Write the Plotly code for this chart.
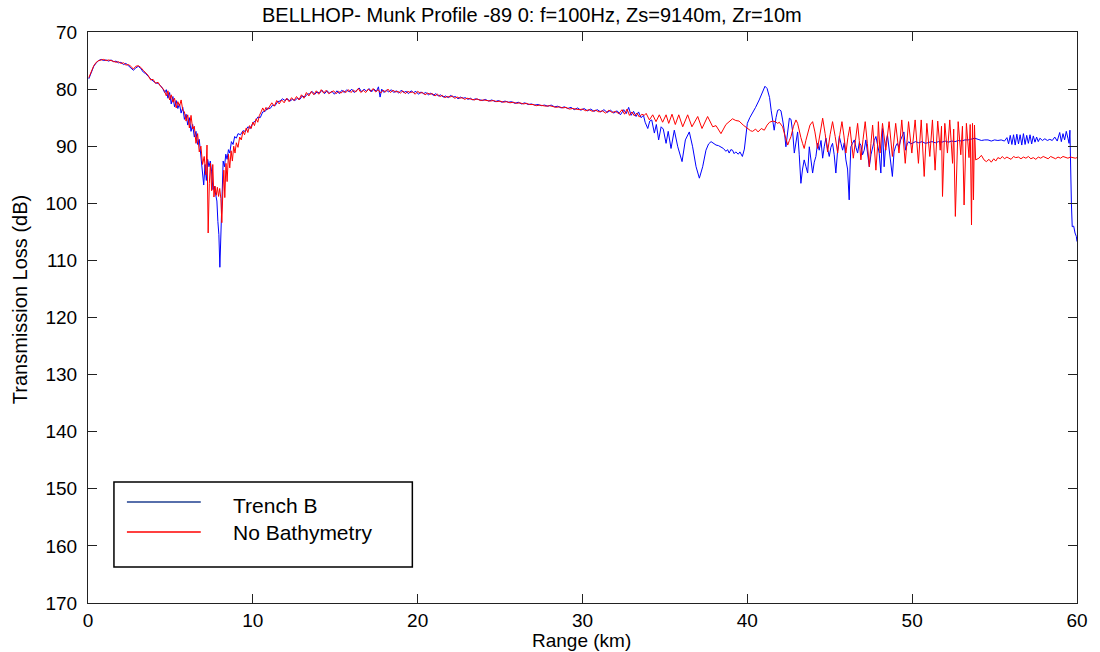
import plotly.graph_objects as go

# Trench B transmission loss (range in km, loss in dB)
trench_km = [
    0.05, 0.2, 0.35, 0.5, 0.65, 0.8, 0.95, 1.1, 1.25, 1.4, 1.55, 1.7, 1.85, 2.0, 2.15, 2.3, 2.45, 2.6, 2.75, 2.9,
    3.05, 3.2, 3.35, 3.5, 3.65, 3.8, 3.95, 4.1, 4.25, 4.4, 4.55, 4.65, 4.75, 4.85, 4.95, 5.05, 5.15, 5.25, 5.35, 5.45,
    5.55, 5.65, 5.75, 5.85, 5.95, 6.05, 6.15, 6.25, 6.35, 6.45, 6.55, 6.65, 6.75, 6.85, 6.95, 7.02, 7.1, 7.18, 7.26, 7.34,
    7.42, 7.5, 7.58, 7.66, 7.74, 7.82, 7.88, 7.94, 8.0, 8.06, 8.12, 8.2, 8.28, 8.36, 8.44, 8.52, 8.6, 8.7, 8.8, 8.9,
    9.0, 9.1, 9.25, 9.4, 9.55, 9.7, 9.85, 10.0, 10.15, 10.3, 10.45, 10.6, 10.75, 10.9, 11.05, 11.2, 11.35, 11.5, 11.65, 11.8,
    11.95, 12.1, 12.25, 12.4, 12.55, 12.7, 12.85, 13.0, 13.15, 13.3, 13.45, 13.6, 13.75, 13.9, 14.05, 14.2, 14.35, 14.5, 14.65, 14.8,
    14.95, 15.1, 15.25, 15.4, 15.55, 15.7, 15.85, 16.0, 16.15, 16.3, 16.45, 16.6, 16.75, 16.9, 17.05, 17.2, 17.35, 17.5, 17.62, 17.72,
    17.82, 17.95, 18.1, 18.25, 18.4, 18.55, 18.7, 18.85, 19.0, 19.15, 19.3, 19.45, 19.6, 19.75, 19.9, 20.05, 20.2, 20.35, 20.5, 20.65,
    20.8, 20.95, 21.1, 21.25, 21.4, 21.55, 21.7, 21.85, 22.0, 22.15, 22.3, 22.45, 22.6, 22.75, 22.9, 23.05, 23.2, 23.35, 23.5, 23.65,
    23.8, 23.95, 24.1, 24.3, 24.5, 24.7, 24.9, 25.1, 25.3, 25.5, 25.7, 25.9, 26.1, 26.3, 26.5, 26.7, 26.9, 27.1, 27.3, 27.5,
    27.7, 27.9, 28.1, 28.3, 28.5, 28.7, 28.9, 29.1, 29.3, 29.5, 29.7, 29.9, 30.1, 30.3, 30.5, 30.7, 30.9, 31.1, 31.3, 31.5,
    31.7, 31.9, 32.1, 32.3, 32.5, 32.65, 32.8, 32.95, 33.1, 33.25, 33.4, 33.55, 33.7, 33.8, 33.96, 34.08, 34.2, 34.36, 34.48, 34.62,
    34.77, 34.9, 35.07, 35.2, 35.37, 35.57, 35.78, 36.04, 36.24, 36.48, 36.68, 36.89, 37.09, 37.29, 37.49, 37.65, 37.8, 37.95, 38.1, 38.25,
    38.4, 38.55, 38.7, 38.8, 38.9, 39.0, 39.1, 39.2, 39.3, 39.45, 39.55, 39.7, 39.82, 40.0, 40.15, 40.32, 40.5, 40.72, 40.9, 41.07,
    41.2, 41.35, 41.45, 41.55, 41.63, 41.74, 41.84, 41.95, 42.04, 42.14, 42.24, 42.34, 42.45, 42.55, 42.65, 42.75, 42.85, 42.95, 43.05, 43.15,
    43.25, 43.35, 43.45, 43.55, 43.66, 43.76, 43.86, 43.96, 44.06, 44.16, 44.26, 44.36, 44.47, 44.57, 44.67, 44.77, 44.87, 44.97, 45.07, 45.17,
    45.27, 45.37, 45.47, 45.58, 45.68, 45.78, 45.88, 45.98, 46.08, 46.18, 46.23, 46.28, 46.38, 46.49, 46.59, 46.69, 46.79, 46.89, 46.99, 47.09,
    47.19, 47.3, 47.4, 47.5, 47.6, 47.7, 47.8, 47.9, 48.0, 48.1, 48.2, 48.3, 48.4, 48.5, 48.6, 48.7, 48.8, 48.9, 49.0, 49.1,
    49.2, 49.3, 49.4, 49.5, 49.6, 49.7, 49.8, 49.9, 50.0, 50.2, 50.4, 50.6, 50.8, 51.0, 51.2, 51.4, 51.6, 51.8, 52.0, 52.2,
    52.4, 52.6, 52.8, 53.0, 53.2, 53.4, 53.6, 53.8, 54.0, 54.2, 54.4, 54.6, 54.8, 55.0, 55.2, 55.4, 55.6, 55.75, 55.85, 55.95,
    56.05, 56.15, 56.25, 56.35, 56.45, 56.55, 56.65, 56.75, 56.85, 56.95, 57.05, 57.15, 57.25, 57.35, 57.45, 57.55, 57.65, 57.75, 57.9, 58.05,
    58.2, 58.35, 58.5, 58.65, 58.8, 58.95, 59.05, 59.15, 59.25, 59.35, 59.45, 59.52, 59.57, 59.61, 59.66, 59.71, 59.8, 59.88, 59.96, 60.0,
]
trench_tl = [
    78.2, 77.0, 76.0, 75.4, 75.0, 74.8, 75.0, 74.9, 75.1, 74.9, 75.2, 75.1, 75.4, 75.3, 75.7, 75.5, 75.9, 76.2, 76.7, 76.3,
    76.0, 76.4, 77.0, 77.3, 77.8, 78.2, 78.6, 78.9, 79.0, 79.4, 80.0, 80.6, 80.1, 81.6, 80.6, 82.6, 81.3, 83.1, 82.0, 83.4,
    82.6, 84.2, 83.2, 85.3, 84.4, 86.3, 85.0, 87.4, 86.2, 88.4, 87.4, 89.7, 88.8, 91.5, 94.0, 96.8, 93.2, 96.0, 92.3, 93.6,
    92.6, 94.5, 97.6, 97.0, 98.4, 99.6, 103.2, 105.5, 111.2, 104.8, 98.6, 92.6, 93.6, 91.4, 92.3, 90.6, 91.2, 89.2, 89.7, 88.3,
    88.6, 87.8, 88.0, 87.3, 87.4, 86.6, 86.9, 85.9, 85.6, 84.9, 85.0, 84.0, 83.9, 83.3, 83.4, 82.8, 82.9, 82.2, 82.1, 81.7,
    82.0, 81.7, 82.1, 81.8, 82.0, 81.6, 81.8, 81.2, 81.4, 80.9, 80.8, 80.4, 80.9, 80.5, 80.7, 80.2, 80.8, 80.3, 80.7, 80.4,
    80.9, 80.3, 80.8, 80.2, 80.6, 80.1, 80.5, 80.0, 80.6, 80.2, 79.8, 80.5, 80.0, 80.4, 79.9, 80.5, 80.0, 80.4, 79.6, 81.4,
    80.0, 80.6, 80.2, 80.5, 80.1, 80.6, 80.3, 80.7, 80.2, 80.6, 80.4, 80.8, 80.3, 80.6, 80.4, 80.9, 80.5, 80.8, 80.6, 81.0,
    80.7, 81.1, 80.8, 81.2, 81.0, 81.4, 81.2, 81.5, 81.1, 81.4, 81.3, 81.7, 81.4, 81.6, 81.5, 81.8, 81.6, 81.9, 81.7, 81.8,
    81.9, 82.0, 81.8, 82.1, 81.9, 82.2, 82.0, 82.3, 82.1, 82.3, 82.2, 82.5, 82.3, 82.6, 82.4, 82.7, 82.6, 82.8, 82.7, 82.9,
    82.8, 83.0, 82.8, 83.1, 83.0, 83.3, 83.1, 83.4, 83.2, 83.6, 83.3, 83.7, 83.4, 83.8, 83.5, 83.9, 83.6, 84.0, 83.6, 84.1,
    83.7, 84.2, 83.8, 84.5, 83.6, 84.3, 83.2, 84.6, 83.9, 84.8, 84.0, 85.0, 84.6, 85.8, 86.9, 85.6, 85.4, 87.7, 86.2, 88.9,
    86.6, 87.0, 89.5, 87.4, 90.4, 87.2, 90.1, 92.7, 88.9, 87.5, 90.1, 93.6, 95.6, 93.6, 90.7, 89.6, 89.2, 89.5, 89.8, 89.9,
    90.2, 90.4, 90.9, 90.6, 91.2, 90.6, 90.7, 91.3, 91.0, 91.4, 91.0, 91.8, 90.5, 86.0, 85.0, 84.2, 83.2, 81.9, 80.6, 79.5,
    79.9, 81.5, 83.8, 86.0, 87.2, 85.0, 83.7, 83.6, 83.8, 85.4, 87.2, 90.1, 87.0, 85.1, 85.3, 87.5, 91.2, 89.0, 87.5, 91.5,
    96.5, 94.0, 92.4, 93.5, 94.7, 90.1, 92.0, 94.7, 92.8, 91.8, 89.5, 90.7, 89.0, 92.1, 90.0, 88.6, 90.5, 91.8, 90.2, 89.5,
    91.5, 94.7, 91.0, 88.3, 89.5, 90.7, 89.4, 92.4, 94.0, 99.4, 94.0, 90.1, 89.5, 88.9, 90.2, 91.2, 89.4, 89.8, 91.5, 90.7,
    88.9, 91.0, 93.6, 91.5, 90.1, 89.0, 88.3, 90.0, 91.2, 94.7, 86.9, 93.6, 89.5, 88.0, 90.7, 93.0, 95.3, 91.0, 90.0, 89.5,
    90.2, 88.9, 88.2, 87.5, 90.7, 89.6, 89.2, 89.6, 89.5, 89.2, 89.4, 89.2, 89.5, 89.3, 89.2, 89.4, 89.2, 89.3, 89.1, 89.3,
    89.1, 89.2, 89.0, 89.1, 88.9, 88.9, 88.8, 88.6, 88.8, 89.0, 88.9, 88.9, 89.1, 88.9, 89.0, 88.9, 89.1, 88.5, 89.6, 88.1,
    89.7, 88.0, 89.8, 87.9, 89.6, 88.0, 89.8, 87.8, 89.7, 88.1, 89.5, 88.0, 89.6, 88.2, 89.3, 88.4, 89.2, 88.6, 89.0, 88.7,
    89.0, 88.8, 89.0, 88.4, 89.1, 87.6, 89.2, 87.8, 88.9, 87.4, 88.6, 89.5, 87.2, 95.0, 100.0, 104.1, 104.0, 105.2, 105.8, 106.7,
]

# Transmission loss with no bathymetry (flat bottom)
flat_km = [
    0.05, 0.2, 0.35, 0.5, 0.65, 0.8, 0.95, 1.1, 1.25, 1.4, 1.55, 1.7, 1.85, 2.0, 2.15, 2.3, 2.45, 2.6, 2.75, 2.9,
    3.05, 3.2, 3.35, 3.5, 3.65, 3.8, 3.95, 4.1, 4.25, 4.4, 4.55, 4.65, 4.75, 4.85, 4.95, 5.05, 5.15, 5.25, 5.35, 5.45,
    5.55, 5.65, 5.75, 5.85, 5.95, 6.05, 6.15, 6.25, 6.35, 6.45, 6.55, 6.65, 6.75, 6.85, 6.95, 7.05, 7.15, 7.22, 7.29, 7.36,
    7.43, 7.5, 7.57, 7.64, 7.71, 7.78, 7.85, 7.92, 7.99, 8.06, 8.12, 8.18, 8.24, 8.3, 8.37, 8.44, 8.52, 8.6, 8.68, 8.76,
    8.84, 8.92, 9.0, 9.1, 9.2, 9.3, 9.4, 9.5, 9.6, 9.7, 9.8, 9.9, 10.0, 10.1, 10.2, 10.3, 10.4, 10.5, 10.6, 10.7,
    10.8, 10.9, 11.0, 11.15, 11.3, 11.45, 11.6, 11.75, 11.9, 12.05, 12.2, 12.35, 12.5, 12.65, 12.8, 12.95, 13.1, 13.25, 13.4, 13.55,
    13.7, 13.85, 14.0, 14.15, 14.3, 14.45, 14.6, 14.75, 14.9, 15.05, 15.2, 15.35, 15.5, 15.65, 15.8, 15.95, 16.1, 16.25, 16.4, 16.55,
    16.7, 16.85, 17.0, 17.15, 17.3, 17.45, 17.6, 17.75, 17.9, 18.05, 18.2, 18.35, 18.5, 18.65, 18.8, 18.95, 19.1, 19.25, 19.4, 19.55,
    19.7, 19.85, 20.0, 20.15, 20.3, 20.45, 20.6, 20.75, 20.9, 21.05, 21.2, 21.35, 21.5, 21.65, 21.8, 21.95, 22.1, 22.25, 22.4, 22.55,
    22.7, 22.85, 23.0, 23.15, 23.3, 23.45, 23.6, 23.8, 24.0, 24.2, 24.4, 24.6, 24.8, 25.0, 25.2, 25.4, 25.6, 25.8, 26.0, 26.2,
    26.4, 26.6, 26.8, 27.0, 27.2, 27.4, 27.6, 27.8, 28.0, 28.2, 28.4, 28.6, 28.8, 29.0, 29.2, 29.4, 29.6, 29.8, 30.0, 30.2,
    30.4, 30.6, 30.8, 31.0, 31.2, 31.4, 31.6, 31.8, 32.0, 32.2, 32.4, 32.55, 32.7, 32.85, 33.0, 33.15, 33.3, 33.45, 33.6, 33.75,
    33.86, 34.06, 34.26, 34.46, 34.66, 34.86, 35.07, 35.23, 35.43, 35.63, 35.84, 36.08, 36.38, 36.64, 36.99, 37.25, 37.59, 37.9, 38.1, 38.4,
    38.7, 39.1, 39.3, 39.5, 39.75, 40.0, 40.2, 40.32, 40.5, 40.65, 40.85, 41.03, 41.2, 41.35, 41.53, 41.7, 41.84, 41.94, 42.04, 42.14,
    42.24, 42.34, 42.45, 42.55, 42.65, 42.8, 42.95, 43.05, 43.15, 43.25, 43.35, 43.45, 43.55, 43.66, 43.8, 43.96, 44.1, 44.26, 44.42, 44.57,
    44.72, 44.87, 45.02, 45.17, 45.33, 45.48, 45.61, 45.74, 45.86, 45.98, 46.1, 46.22, 46.33, 46.43, 46.56, 46.69, 46.79, 46.89, 47.02, 47.15,
    47.28, 47.4, 47.5, 47.6, 47.7, 47.8, 47.9, 47.95, 48.05, 48.2, 48.4, 48.6, 48.8, 49.0, 49.2, 49.37, 49.58, 49.78, 49.98, 50.18,
    50.38, 50.55, 50.73, 50.89, 51.07, 51.23, 51.39, 51.55, 51.7, 51.78, 51.84, 51.98, 52.14, 52.28, 52.45, 52.52, 52.62, 52.79, 52.95, 53.05,
    53.15, 53.29, 53.45, 53.52, 53.6, 53.66, 53.72, 53.78, 53.85, 54.05, 54.2, 54.36, 54.5, 54.66, 54.8, 54.95, 55.07, 55.2, 55.35, 55.47,
    55.6, 55.75, 55.87, 56.0, 56.15, 56.28, 56.45, 56.6, 56.75, 56.9, 57.05, 57.2, 57.35, 57.5, 57.65, 57.8, 57.95, 58.1, 58.25, 58.4,
    58.55, 58.7, 58.85, 59.0, 59.15, 59.3, 59.45, 59.6, 59.75, 59.9, 60.0,
]
flat_tl = [
    78.0, 76.8, 75.9, 75.3, 75.0, 74.9, 74.8, 75.0, 74.9, 75.0, 75.1, 75.3, 75.2, 75.5, 75.4, 75.8, 75.7, 76.0, 76.5, 76.0,
    75.9, 76.2, 76.7, 77.2, 77.6, 78.4, 78.3, 79.0, 78.8, 79.5, 79.9, 80.4, 81.2, 80.3, 81.9, 81.0, 82.3, 81.6, 83.3, 82.2,
    83.0, 81.9, 83.7, 84.0, 85.6, 84.5, 86.8, 84.6, 87.0, 86.5, 89.5, 87.8, 91.0, 90.0, 93.2, 91.8, 95.0, 89.8, 105.2, 96.5,
    93.0, 97.8, 93.2, 98.9, 97.0, 98.6, 97.2, 98.8, 97.4, 99.2, 103.4, 98.0, 94.2, 99.0, 93.0, 96.2, 91.4, 93.8, 90.8, 92.6,
    90.0, 91.2, 89.4, 90.2, 88.4, 88.9, 87.4, 88.0, 86.8, 87.6, 86.4, 86.9, 85.8, 86.4, 85.2, 85.8, 84.6, 84.0, 83.3, 83.9,
    83.2, 83.6, 83.0, 82.4, 83.0, 82.0, 82.6, 81.9, 82.4, 81.6, 82.2, 81.5, 82.0, 81.3, 81.9, 81.0, 81.6, 80.6, 81.2, 80.4,
    81.0, 80.3, 80.9, 80.1, 80.7, 80.2, 80.8, 80.5, 80.3, 80.8, 80.4, 80.7, 80.3, 80.6, 80.1, 80.6, 80.2, 80.5, 79.9, 80.6,
    80.2, 80.6, 80.0, 80.4, 79.9, 80.5, 80.1, 80.7, 80.2, 80.5, 80.0, 80.6, 80.2, 80.5, 80.4, 80.7, 80.3, 80.8, 80.4, 80.6,
    80.5, 80.9, 80.4, 80.7, 80.6, 81.0, 80.7, 80.9, 80.8, 81.2, 80.9, 81.3, 81.1, 81.5, 81.3, 81.4, 81.2, 81.6, 81.4, 81.6,
    81.5, 81.8, 81.6, 81.7, 81.8, 81.9, 81.7, 82.0, 81.9, 82.0, 82.1, 82.0, 82.2, 82.1, 82.3, 82.2, 82.4, 82.3, 82.5, 82.4,
    82.6, 82.5, 82.7, 82.7, 82.9, 82.8, 82.9, 83.0, 82.9, 83.1, 83.2, 83.1, 83.3, 83.2, 83.5, 83.4, 83.5, 83.6, 83.5, 83.8,
    83.6, 83.9, 83.7, 84.0, 83.8, 84.2, 83.7, 84.1, 83.9, 84.3, 83.6, 84.4, 83.5, 84.6, 84.0, 84.7, 84.2, 84.9, 84.4, 84.6,
    84.25, 85.4, 84.5, 85.7, 84.5, 85.8, 84.5, 86.0, 84.4, 86.2, 84.5, 86.6, 84.5, 86.6, 84.8, 86.9, 84.8, 86.6, 86.4, 87.8,
    86.2, 85.2, 85.5, 85.6, 86.3, 86.9, 87.3, 87.4, 87.0, 87.5, 86.9, 87.2, 86.3, 85.8, 85.6, 85.7, 86.0, 85.8, 86.2, 86.6,
    87.7, 88.9, 89.8, 89.0, 88.3, 86.5, 85.4, 86.0, 87.5, 88.5, 89.5, 90.4, 89.0, 87.7, 86.3, 85.7, 87.5, 90.4, 87.5, 85.1,
    87.8, 91.0, 88.0, 85.7, 88.3, 91.2, 88.0, 85.7, 88.2, 91.2, 88.5, 86.6, 89.5, 92.1, 89.0, 86.0, 89.0, 92.4, 88.8, 85.7,
    89.5, 93.6, 89.5, 86.3, 90.0, 94.2, 90.0, 85.7, 91.2, 86.0, 90.7, 85.7, 91.8, 86.0, 91.2, 85.4, 93.0, 85.7, 91.2, 85.4,
    93.0, 85.4, 95.3, 86.0, 91.8, 85.4, 94.2, 85.6, 90.7, 86.5, 98.8, 86.0, 91.2, 85.4, 93.0, 87.0, 102.3, 85.7, 91.5, 86.5,
    100.3, 86.0, 92.0, 86.2, 103.8, 86.0, 99.4, 86.3, 92.4, 92.1, 91.6, 92.4, 92.7, 92.3, 92.8, 92.2, 92.6, 92.0, 92.2, 91.8,
    92.2, 91.9, 92.1, 92.3, 91.8, 92.0, 91.9, 92.2, 91.9, 92.1, 91.8, 92.2, 92.0, 92.3, 91.9, 92.1, 91.8, 92.0, 92.2, 91.8,
    92.0, 92.2, 91.9, 92.1, 91.8, 92.0, 92.1, 91.9, 92.0, 92.1, 92.0,
]

legend_names = ["Trench B", "No Bathymetry"]
x_ticks = [0, 10, 20, 30, 40, 50, 60]
y_ticks = [70, 80, 90, 100, 110, 120, 130, 140, 150, 160, 170]

AX_FONT = "Liberation Sans, Arial, sans-serif"

fig = go.Figure()
fig.add_trace(go.Scatter(x=trench_km, y=trench_tl, mode="lines", name=legend_names[0],
                         line=dict(color="#0000ff", width=1), showlegend=False))
fig.add_trace(go.Scatter(x=flat_km, y=flat_tl, mode="lines", name=legend_names[1],
                         line=dict(color="#ff0000", width=1), showlegend=False))

axis_common = dict(
    showgrid=False, zeroline=False, showline=True, linecolor="#222", linewidth=1,
    mirror="ticks", ticks="inside", ticklen=9, tickcolor="#222", tickwidth=1,
    tickfont=dict(family=AX_FONT, size=19, color="#000"),
)
fig.update_xaxes(range=[0, 60], tickvals=x_ticks, ticklabelstandoff=0, **axis_common)
fig.update_yaxes(range=[170, 70], tickvals=y_ticks, ticklabelstandoff=6, **axis_common)

# Hand-drawn legend box in the lower left corner of the axes
def px_x(p):
    return (p - 88) / 991.0

def px_y(p):
    return (603 - p) / 571.0

shapes = [
    dict(type="rect", xref="paper", yref="paper", x0=px_x(114), x1=px_x(413), y0=px_y(567), y1=px_y(482),
         line=dict(color="#000", width=1.5), fillcolor="white"),
    dict(type="line", xref="paper", yref="paper", x0=px_x(127), x1=px_x(201), y0=px_y(502), y1=px_y(502),
         line=dict(color="#1f3f8f", width=1.5)),
    dict(type="line", xref="paper", yref="paper", x0=px_x(127), x1=px_x(201), y0=px_y(532), y1=px_y(532),
         line=dict(color="#ff0000", width=1.5)),
]

annotations = [
    dict(text=legend_names[0], xref="paper", yref="paper", x=px_x(231), y=px_y(505), xanchor="left",
         yanchor="middle", showarrow=False, font=dict(family=AX_FONT, size=21, color="#000")),
    dict(text=legend_names[1], xref="paper", yref="paper", x=px_x(231), y=px_y(532), xanchor="left",
         yanchor="middle", showarrow=False, font=dict(family=AX_FONT, size=21, color="#000")),
    dict(text="BELLHOP- Munk Profile -89 0: f=100Hz, Zs=9140m, Zr=10m", xref="paper", yref="paper",
         x=px_x(533), y=px_y(15), xanchor="center", yanchor="middle", showarrow=False,
         font=dict(family=AX_FONT, size=20, color="#000")),
    dict(text="Range (km)", xref="paper", yref="paper", x=px_x(582), y=px_y(640), xanchor="center",
         yanchor="middle", showarrow=False, font=dict(family=AX_FONT, size=19, color="#000")),
    dict(text="Transmission Loss (dB)", xref="paper", yref="paper", x=px_x(20), y=px_y(300), xanchor="center",
         yanchor="middle", textangle=-90, showarrow=False, font=dict(family=AX_FONT, size=20, color="#000")),
]

fig.update_layout(
    width=1100, height=652,
    margin=dict(l=88, r=21, t=32, b=49),
    paper_bgcolor="white", plot_bgcolor="white",
    shapes=shapes, annotations=annotations,
    showlegend=False,
)

fig.write_html("out.html")
